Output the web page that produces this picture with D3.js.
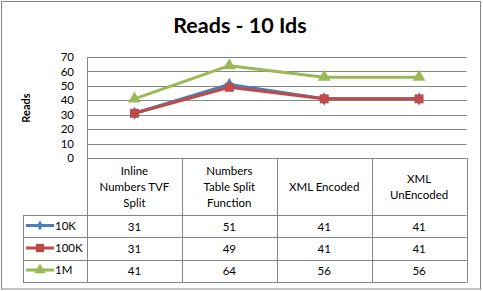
<!DOCTYPE html>
<html><head><meta charset="utf-8">
<script src="https://cdn.jsdelivr.net/npm/d3@7"></script>
<style>body{margin:0;background:#fff;}svg{display:block;font-family:Lato,"Open Sans",sans-serif;}</style>
</head><body>
<script>
const categories = [["Inline","Numbers TVF","Split"],["Numbers","Table Split","Function"],["XML Encoded"],["XML","UnEncoded"]];
const seriesNames = ["10K","100K","1M"];
const values10K = [31,51,41,41];
const values100K = [31,49,41,41];
const values1M = [41,64,56,56];
const yTicks = [0,10,20,30,40,50,60,70];
const colors = ["#4A7EBB","#BE4B48","#98B954"];
const seriesValues = [values10K, values100K, values1M];

const W=483,H=291;
const svg=d3.select("body").append("svg").attr("width",W).attr("height",H);
svg.append("rect").attr("x",1.5).attr("y",1.5).attr("width",479).attr("height",287.5).attr("fill","#fff").attr("stroke","#868686").attr("stroke-width",1);

const L=87,R=466.5,T=57,B=158;
const x=d3.scaleBand().domain(d3.range(categories.length)).range([L,R]);
const y=d3.scaleLinear().domain([0,70]).range([B,T]);
const grid="#868686";
const fs=11.5;

svg.append("text").attr("x",240).attr("y",33).attr("text-anchor","middle").attr("font-size",21.5).attr("font-weight","bold").text("Reads - 10 Ids");

// gridlines
svg.append("g").selectAll("line").data(yTicks).join("line")
 .attr("x1",L).attr("x2",R).attr("y1",d=>Math.round(y(d))+0.5).attr("y2",d=>Math.round(y(d))+0.5)
 .attr("stroke",grid);
// y axis
const yAxis=d3.axisLeft(y).tickValues(yTicks).tickSize(0).tickPadding(13);
const ga=svg.append("g").attr("transform",`translate(${L},0)`).call(yAxis);
ga.select(".domain").remove();
ga.selectAll("text").attr("font-size",11.5).attr("fill","#000").attr("font-family","Lato,sans-serif");
svg.append("line").attr("x1",L+0.5).attr("x2",L+0.5).attr("y1",T).attr("y2",282.5).attr("stroke",grid);

svg.append("text").attr("transform","translate(30,108) rotate(-90)").attr("text-anchor","middle").attr("font-size",11).attr("font-weight","bold").text("Reads");

// table
const tg=svg.append("g");
tg.selectAll("line.v").data(d3.range(1,categories.length+1)).join("line")
 .attr("x1",i=>Math.round(L+i*x.bandwidth())+0.5).attr("x2",i=>Math.round(L+i*x.bandwidth())+0.5)
 .attr("y1",B).attr("y2",282.5).attr("stroke",grid);
tg.append("line").attr("x1",L).attr("x2",R).attr("y1",B+0.5).attr("y2",B+0.5).attr("stroke",grid);
[215,237,260,282].forEach(v=>tg.append("line").attr("x1",23).attr("x2",R).attr("y1",v+0.5).attr("y2",v+0.5).attr("stroke",grid));
tg.append("line").attr("x1",23.5).attr("x2",23.5).attr("y1",215).attr("y2",282.5).attr("stroke",grid);

// category labels
categories.forEach((lines,i)=>{
  const cx=x(i)+x.bandwidth()/2;
  const n=lines.length, mid=186.5, lh=16;
  lines.forEach((t,j)=>{
    svg.append("text").attr("x",cx).attr("y",mid+(j-(n-1)/2)*lh).attr("dy","0.35em").attr("text-anchor","middle").attr("font-size",fs).text(t);
  });
});
// data values in table
const rowCenters=[226.5,249,271];
seriesValues.forEach((vals,s)=>{
  vals.forEach((v,i)=>{
    svg.append("text").attr("x",x(i)+x.bandwidth()/2).attr("y",rowCenters[s]).attr("dy","0.35em").attr("text-anchor","middle").attr("font-size",fs).text(v);
  });
  // legend key
  const ly=rowCenters[s]-1;
  svg.append("line").attr("x1",26).attr("x2",54).attr("y1",ly).attr("y2",ly).attr("stroke",colors[s]).attr("stroke-width",3);
  const sym=[d3.symbolDiamond,d3.symbolSquare,d3.symbolTriangle][s];
  const sz=[30,70,55][s];
  svg.append("path").attr("d",d3.symbol(sym,sz)()).attr("transform",`translate(40,${ly})`).attr("fill",colors[s]);
  svg.append("text").attr("x",55).attr("y",rowCenters[s]-1).attr("dy","0.35em").attr("font-size",fs).text(seriesNames[s]);
});

// lines
const line=d3.line().x((d,i)=>x(i)+x.bandwidth()/2).y(d=>y(d));
[0,1,2].forEach(s=>{
  svg.append("path").attr("d",line(seriesValues[s])).attr("fill","none").attr("stroke",colors[s]).attr("stroke-width",3).attr("stroke-linejoin","round");
});
[0,1,2].forEach(s=>{
  const sym=[d3.symbolDiamond,d3.symbolSquare,d3.symbolTriangle][s];
  const sz=[50,81,70][s];
  svg.append("g").selectAll("path").data(seriesValues[s]).join("path")
   .attr("d",d3.symbol(sym,sz)()).attr("transform",(d,i)=>`translate(${x(i)+x.bandwidth()/2},${y(d)})`).attr("fill",colors[s]);
});
</script>
</body></html>
